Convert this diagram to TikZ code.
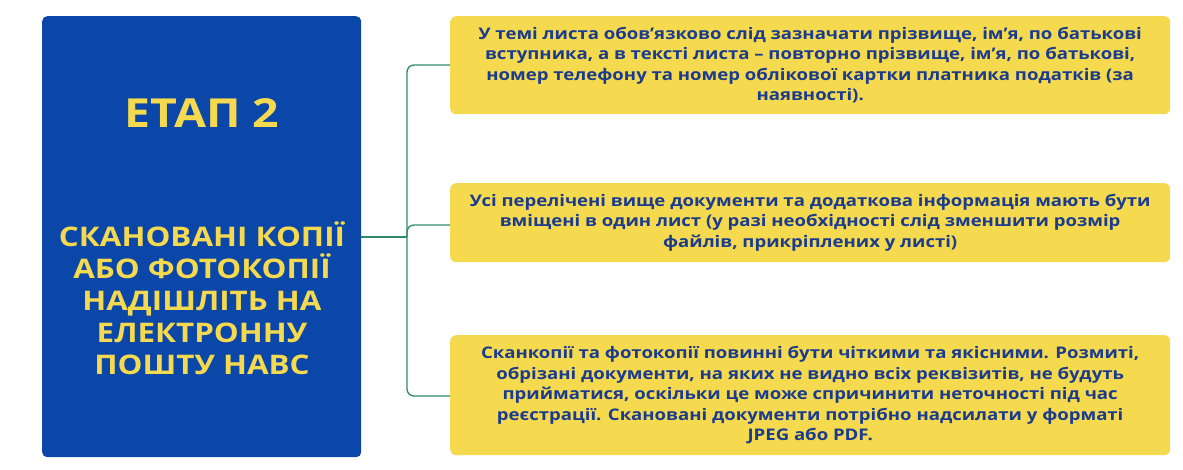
\documentclass[tikz,border=0pt]{standalone}
\usepackage{fontspec}
\setmainfont{Open Sans}[FakeStretch=1.16]
\definecolor{bblue}{HTML}{0A47A8}
\definecolor{yel}{HTML}{F5D94E}
\definecolor{ytext}{HTML}{F5D94E}
\definecolor{navy}{HTML}{1B3C8E}
\definecolor{grn}{HTML}{2E8B6A}
\begin{document}
\begin{tikzpicture}[x=1pt,y=-1pt,
  ybox/.style={fill=yel,rounded corners=6pt,inner sep=0pt,minimum width=720pt,anchor=north west,align=center,text=navy,font=\fontsize{16}{20.5}\selectfont\bfseries},
  conn/.style={draw=grn,line width=1.3pt,rounded corners=7pt}]
\useasboundingbox (0,0) rectangle (1183,470);
\node[fill=bblue,rounded corners=5pt,minimum width=319pt,minimum height=441pt,anchor=north west,inner sep=0pt] (main) at (42,16) {};
\node[text=ytext,font=\fontsize{40}{40}\selectfont\bfseries] (t1) at (202,113) {ЕТАП 2};
\node[text=ytext,font=\fontsize{27}{32}\selectfont\bfseries,align=center] (t2) at (202,298) {СКАНОВАНІ КОПІЇ\\АБО ФОТОКОПІЇ\\НАДІШЛІТЬ НА\\ЕЛЕКТРОННУ\\ПОШТУ НАВС};
\node[ybox,minimum height=98pt] (b1) at (450,16) {У темі листа обов’язково слід зазначати прізвище, ім’я, по батькові\\вступника, а в тексті листа – повторно прізвище, ім’я, по батькові,\\номер телефону та номер облікової картки платника податків (за\\наявності).};
\node[ybox,minimum height=79pt] (b2) at (450,183) {Усі перелічені вище документи та додаткова інформація мають бути\\вміщені в один лист (у разі необхідності слід зменшити розмір\\файлів, прикріплених у листі)};
\node[ybox,minimum height=120pt] (b3) at (450,335) {Сканкопії та фотокопії повинні бути чіткими та якісними. Розмиті,\\обрізані документи, на яких не видно всіх реквізитів, не будуть\\прийматися, оскільки це може спричинити неточності під час\\реєстрації. Скановані документи потрібно надсилати у форматі\\JPEG або PDF.};
\coordinate (j) at (407,237);
\draw[conn] (main.east |- j) -- (j);
\draw[conn] (j) -- (407,65) -- (b1.west |- 0,65);
\draw[conn] (j) -- (407,396) -- (b3.west |- 0,396);
\draw[conn] (j) -- (407,225) -- (b2.west |- 0,225);
\end{tikzpicture}
\end{document}
